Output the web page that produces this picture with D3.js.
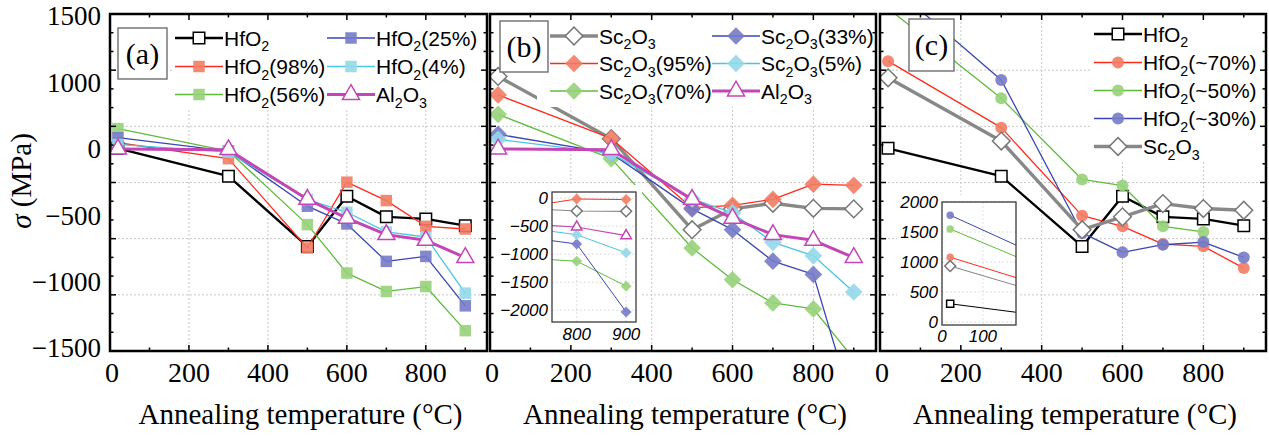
<!DOCTYPE html>
<html>
<head>
<meta charset="utf-8">
<script src="https://cdn.jsdelivr.net/npm/d3@7"></script>
<style>
  html, body { margin: 0; padding: 0; background: #fff; }
  svg { display: block; }
</style>
</head>
<body>
<svg id="chart" width="1269" height="436"></svg>
<script>
// ---- data: residual stress (MPa) vs annealing temperature (°C) ----
const temps = [20, 300, 500, 600, 700, 800, 900];
const temps50 = [20, 300, 500, 600, 700, 800];

// shared series
const hfo2 = [304, 56, -569, -122, -306, -324, -384];
const al2o3 = [298, 292, -150, -318, -464, -515, -668];

// panel (a): HfO2 mixtures
const hfo2_98 = [354, 212, -583, 3, -161, -390, -414];
const hfo2_56 = [479, 280, -375, -806, -970, -926, -1319];
const hfo2_25 = [399, 280, -211, -369, -702, -658, -1098];
const hfo2_4 = [339, 271, -152, -265, -440, -485, -985];

// panel (b): Sc2O3 mixtures
const sc2o3_b = [944, 390, -420, -235, -185, -230, -235];
const sc2o3_95 = [780, 392, -226, -203, -150, -15, -25];
const sc2o3_70 = [607, 212, -583, -866, -1072, -1125, -1570];
const sc2o3_33 = [429, 259, -235, -420, -700, -818, -2030];
const sc2o3_5 = [384, 259, -146, -271, -533, -652, -975];

// panel (c)
const hfo2_c70 = [1080, 488, -295, -390, -548, -568, -762];
const hfo2_c50 = [1550, 750, 27, -27, -390, -440];
const hfo2_c30 = [1780, 913, -449, -622, -554, -530, -667];
const sc2o3_c = [932, 369, -420, -306, -188, -232, -247];

// axis labels
const yTickLabels = ["1500", "1000", "0", "\u2212500", "\u22121000", "\u22121500"];
const xTickValues = [0, 200, 400, 600, 800];
const insetBXTicks = [800, 900];
const insetBYTicks = [0, -500, -1000, -1500, -2000];
const insetCXTicks = [0, 100];
const insetCYTicks = [0, 500, 1000, 1500, 2000];
const xTitle = "Annealing temperature (\u00B0C)";

// ---- drawing ----
const SERIF = "'Liberation Serif','Times New Roman',serif";
const SANS = "'Liberation Sans',Arial,sans-serif";
const svg = d3.select("#chart");
const defs = svg.append("defs");
const Y_TOP = 14, Y_BOT = 351;
const y = d3.scaleLinear().domain([-1500, 1500]).range([Y_BOT, Y_TOP]);

const C = {
  black: "#000000", red: "#ff2b1a", green: "#5fbb3c", blue: "#3a46b2",
  cyan: "#4cc5e0", magenta: "#c246b6", gray: "#888888"
};
const MF = { red: "#f27c64", green: "#98d27a", blue: "#767bc6", cyan: "#94d8ea" };

function style(color, shape) {
  if (color === "black") return { line: C.black, lw: 2.4, shape: "square", open: true, stroke: "#000", size: 11.5 };
  if (color === "magenta") return { line: C.magenta, lw: 3, shape: "triangle", open: true, stroke: C.magenta, size: 17 };
  if (color === "gray") return { line: C.gray, lw: 3.4, shape: "diamond", open: true, stroke: "#777", size: 12.5 };
  const sz = shape === "diamond" ? 12.5 : shape === "circle" ? 12 : 11.5;
  return { line: C[color], lw: 1.3, shape: shape, open: false, fill: MF[color], size: sz };
}

function symbolPath(shape, s) {
  if (shape === "square" || shape === "diamond") return d3.symbol(d3.symbolSquare, s * s)();
  if (shape === "circle") return d3.symbol(d3.symbolCircle, Math.PI * s * s / 4)();
  return d3.symbol(d3.symbolTriangle, s * s * Math.sqrt(3) / 4)();
}

function marker(g, cx, cy, st, s) {
  const p = g.append("path").attr("d", symbolPath(st.shape, s))
    .attr("transform", `translate(${cx},${cy})` + (st.shape === "diamond" ? " rotate(45)" : ""));
  if (st.open) p.attr("fill", "#fff").attr("stroke", st.stroke).attr("stroke-width", 1.5);
  else p.attr("fill", st.fill).attr("fill-opacity", 0.9).attr("stroke", "none");
}

function richText(g, x, yb, label, size, opts) {
  opts = opts || {};
  const t = g.append("text").attr("x", x).attr("y", yb)
    .attr("font-family", opts.family || SANS).attr("font-size", size)
    .attr("text-anchor", opts.anchor || "start").attr("fill", "#000");
  if (opts.italic) t.attr("font-style", "italic");
  const parts = label.split(/(_\d)/).filter(s => s.length);
  let sub = false;
  parts.forEach(p => {
    if (p[0] === "_") {
      t.append("tspan").attr("font-size", size * 0.68).attr("dy", size * 0.27).text(p.slice(1));
      sub = true;
    } else {
      t.append("tspan").attr("dy", sub ? -size * 0.27 : 0).text(p);
      sub = false;
    }
  });
  return t;
}

const S = (name, xs, vals, color, shape) => ({ name, xs, vals, st: style(color, shape) });

const panels = [
  {
    key: "a", left: 110, right: 487,
    series: [
      S("HfO_2", temps, hfo2, "black"),
      S("HfO_2(98%)", temps, hfo2_98, "red", "square"),
      S("HfO_2(56%)", temps, hfo2_56, "green", "square"),
      S("HfO_2(25%)", temps, hfo2_25, "blue", "square"),
      S("HfO_2(4%)", temps, hfo2_4, "cyan", "square"),
      S("Al_2O_3", temps, al2o3, "magenta")
    ],
    legend: { cols: [[0, 1, 2], [3, 4, 5]], colX: [175, 327], rows: [38, 66.5, 94.5], bg: [172, 18, 313, 90] },
    box: [118, 28, 49, 51], label: "(a)", inset: null
  },
  {
    key: "b", left: 490, right: 876,
    series: [
      S("Sc_2O_3", temps, sc2o3_b, "gray"),
      S("Sc_2O_3(95%)", temps, sc2o3_95, "red", "diamond"),
      S("Sc_2O_3(70%)", temps, sc2o3_70, "green", "diamond"),
      S("Sc_2O_3(33%)", temps, sc2o3_33, "blue", "diamond"),
      S("Sc_2O_3(5%)", temps, sc2o3_5, "cyan", "diamond"),
      S("Al_2O_3", temps, al2o3, "magenta")
    ],
    legend: { cols: [[0, 1, 2], [3, 4, 5]], colX: [550, 712], rows: [36, 63.5, 91], bg: [537, 16, 337, 91] },
    box: [500, 21, 48, 51], label: "(b)",
    inset: {
      left: 552, right: 636, top: 192, bottom: 322, xDomain: [750, 920], yDomain: [-2210, 110],
      xTicks: insetBXTicks, yTicks: insetBYTicks, bg: [496, 185, 146, 162], xLabelY: 340
    }
  },
  {
    key: "c", left: 880, right: 1266,
    series: [
      S("HfO_2", temps, hfo2, "black"),
      S("HfO_2(~70%)", temps, hfo2_c70, "red", "circle"),
      S("HfO_2(~50%)", temps50, hfo2_c50, "green", "circle"),
      S("HfO_2(~30%)", temps, hfo2_c30, "blue", "circle"),
      S("Sc_2O_3", temps, sc2o3_c, "gray")
    ],
    legend: { cols: [[0, 1, 2, 3, 4]], colX: [1094], rows: [34, 62.5, 90.5, 118.5, 146.5], bg: [1090, 18, 174, 144] },
    box: [909, 19, 45, 52], label: "(c)",
    inset: {
      left: 942, right: 1016, top: 202, bottom: 325, xDomain: [0, 181], yDomain: [-50, 2000],
      xTicks: insetCXTicks, yTicks: insetCYTicks, bg: [897, 195, 123, 152], xLabelY: 342
    }
  }
];

function drawInset(root, P, I) {
  const g = root.append("g");
  const xs = d3.scaleLinear().domain(I.xDomain).range([I.left, I.right]);
  const ys = d3.scaleLinear().domain(I.yDomain).range([I.bottom, I.top]);
  g.append("rect").attr("x", I.bg[0]).attr("y", I.bg[1]).attr("width", I.bg[2]).attr("height", I.bg[3]).attr("fill", "#fff");
  const cid = "clip-inset-" + P.key;
  defs.append("clipPath").attr("id", cid).append("rect")
    .attr("x", I.left).attr("y", I.top).attr("width", I.right - I.left).attr("height", I.bottom - I.top);
  const grid = g.append("g").attr("stroke", "#d6d6d6").attr("stroke-width", 0.8).attr("stroke-dasharray", "2,2");
  I.xTicks.forEach(v => grid.append("line").attr("x1", xs(v)).attr("x2", xs(v)).attr("y1", I.top).attr("y2", I.bottom));
  I.yTicks.forEach(v => grid.append("line").attr("x1", I.left).attr("x2", I.right).attr("y1", ys(v)).attr("y2", ys(v)));
  const plot = g.append("g").attr("clip-path", `url(#${cid})`);
  P.series.forEach(s => {
    const pts = s.xs.map((t, i) => [t, s.vals[i]]);
    const lw = s.st.open ? 1.1 : 1.0;
    plot.append("path").attr("d", d3.line().x(d => xs(d[0])).y(d => ys(d[1]))(pts))
      .attr("fill", "none").attr("stroke", s.st.line).attr("stroke-width", lw);
    pts.filter(d => d[0] >= I.xDomain[0] && d[0] <= I.xDomain[1])
      .forEach(d => marker(plot, xs(d[0]), ys(d[1]), s.st, s.st.size * 0.62));
  });
  g.append("rect").attr("x", I.left).attr("y", I.top).attr("width", I.right - I.left).attr("height", I.bottom - I.top)
    .attr("fill", "none").attr("stroke", "#3a3a3a").attr("stroke-width", 1.3);
  I.yTicks.forEach(v => {
    g.append("text").attr("x", I.left - 4).attr("y", ys(v)).attr("dy", "0.36em")
      .attr("text-anchor", "end").attr("font-family", SANS).attr("font-style", "italic").attr("font-size", 17)
      .text(v < 0 ? "\u2212" + Math.abs(v) : String(v));
  });
  I.xTicks.forEach(v => {
    g.append("text").attr("x", xs(v)).attr("y", I.xLabelY)
      .attr("text-anchor", "middle").attr("font-family", SANS).attr("font-style", "italic").attr("font-size", 17)
      .text(String(v));
  });
}

function ticks(g, x, P) {
  const tg = g.append("g").attr("stroke", "#000").attr("stroke-width", 1.5);
  d3.range(0, 956, 100).forEach(v => {
    const len = v % 200 === 0 ? 6 : 3.5;
    tg.append("line").attr("x1", x(v)).attr("x2", x(v)).attr("y1", Y_BOT).attr("y2", Y_BOT - len);
    tg.append("line").attr("x1", x(v)).attr("x2", x(v)).attr("y1", Y_TOP).attr("y2", Y_TOP + len);
  });
  d3.range(-9, 10).forEach(i => {
    const v = i * 500 / 3;
    const len = i % 3 === 0 ? 6 : 3.5;
    tg.append("line").attr("x1", P.left).attr("x2", P.left + len).attr("y1", y(v)).attr("y2", y(v));
    tg.append("line").attr("x1", P.right).attr("x2", P.right - len).attr("y1", y(v)).attr("y2", y(v));
  });
}

panels.forEach(P => {
  const x = d3.scaleLinear().domain([0, 955]).range([P.left, P.right]);
  const g = svg.append("g").attr("class", "panel-" + P.key);
  const clipId = "clip-" + P.key;
  defs.append("clipPath").attr("id", clipId).append("rect")
    .attr("x", P.left).attr("y", Y_TOP).attr("width", P.right - P.left).attr("height", Y_BOT - Y_TOP);

  // grid
  const grid = g.append("g").attr("stroke", "#c8c8c8").attr("stroke-width", 1).attr("stroke-dasharray", "2,2");
  [200, 400, 600, 800].forEach(v => grid.append("line").attr("x1", x(v)).attr("x2", x(v)).attr("y1", Y_TOP).attr("y2", Y_BOT));
  [-1000, -500, 0, 500, 1000].forEach(v => grid.append("line").attr("x1", P.left).attr("x2", P.right).attr("y1", y(v)).attr("y2", y(v)));

  // series
  const plot = g.append("g").attr("clip-path", `url(#${clipId})`);
  P.series.forEach(s => {
    const pts = s.xs.map((t, i) => [t, s.vals[i]]);
    plot.append("path").attr("d", d3.line().x(d => x(d[0])).y(d => y(d[1]))(pts))
      .attr("fill", "none").attr("stroke", s.st.line).attr("stroke-width", s.st.lw).attr("stroke-linejoin", "round");
    pts.forEach(d => marker(plot, x(d[0]), y(d[1]), s.st, s.st.size));
  });

  // legend
  const L = P.legend;
  const lg = g.append("g");
  lg.append("rect").attr("x", L.bg[0]).attr("y", L.bg[1]).attr("width", L.bg[2]).attr("height", L.bg[3]).attr("fill", "#fff");
  L.cols.forEach((col, ci) => {
    col.forEach((si, ri) => {
      const s = P.series[si];
      const x0 = L.colX[ci], yy = L.rows[ri];
      lg.append("line").attr("x1", x0).attr("x2", x0 + 48).attr("y1", yy).attr("y2", yy)
        .attr("stroke", s.st.line).attr("stroke-width", s.st.lw);
      marker(lg, x0 + 24, yy, s.st, s.st.size);
      richText(lg, x0 + 49, yy + 7.5, s.name, 21);
    });
  });

  // panel label box
  g.append("rect").attr("x", P.box[0]).attr("y", P.box[1]).attr("width", P.box[2]).attr("height", P.box[3])
    .attr("fill", "#fff").attr("stroke", "#6e6e6e").attr("stroke-width", 1.4);
  g.append("text").attr("x", P.box[0] + P.box[2] / 2).attr("y", P.box[1] + P.box[3] / 2).attr("dy", "0.34em")
    .attr("text-anchor", "middle").attr("font-family", SERIF).attr("font-size", 30).text(P.label);

  if (P.inset) drawInset(g, P, P.inset);

  // frame and ticks
  g.append("rect").attr("x", P.left).attr("y", Y_TOP).attr("width", P.right - P.left).attr("height", Y_BOT - Y_TOP)
    .attr("fill", "none").attr("stroke", "#000").attr("stroke-width", 2.5);
  ticks(g, x, P);

  // x tick labels and title
  xTickValues.forEach(v => {
    g.append("text").attr("x", x(v) + (v === 0 ? 2 : 0)).attr("y", 382).attr("text-anchor", "middle")
      .attr("font-family", SERIF).attr("font-size", 28).text(String(v));
  });
  g.append("text").attr("x", (P.left + P.right) / 2 + 2).attr("y", 424).attr("text-anchor", "middle")
    .attr("font-family", SERIF).attr("font-size", 29).text(xTitle);
});

// y tick labels (left panel only)
const yLab = d3.scalePoint().domain(yTickLabels).range([16, 348]);
yTickLabels.forEach(t => {
  svg.append("text").attr("x", 101).attr("y", yLab(t)).attr("dy", "0.35em").attr("text-anchor", "end")
    .attr("font-family", SERIF).attr("font-size", 27).text(t);
});

// y axis title
const yt = svg.append("text").attr("transform", "translate(31,181) rotate(-90)")
  .attr("text-anchor", "middle").attr("font-family", SERIF).attr("font-size", 29);
yt.append("tspan").attr("font-style", "italic").text("\u03C3");
yt.append("tspan").text(" (MPa)");
</script>
</body>
</html>
